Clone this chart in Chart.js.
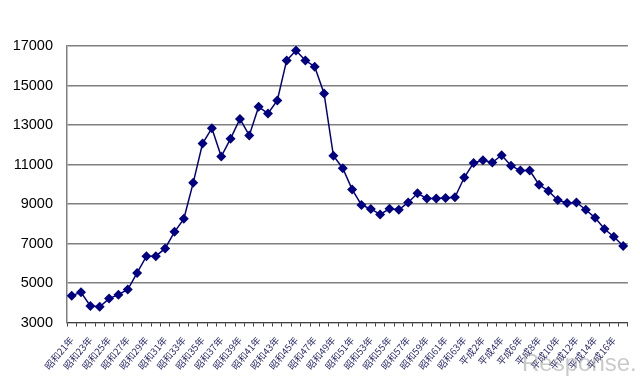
<!DOCTYPE html>
<html>
<head>
<meta charset="utf-8">
<script src="https://cdn.jsdelivr.net/npm/chart.js@4"></script>
<style>
html,body{margin:0;padding:0;background:#fff;}
#wrap{position:relative;width:640px;height:383px;}
#mark{position:absolute;left:522px;top:349px;font-family:"Liberation Sans",Arial,sans-serif;font-size:24px;color:rgba(150,150,150,0.5);}
</style>
</head>
<body>
<div id="wrap">
<canvas id="c" width="640" height="383"></canvas>
<div id="mark">Response.</div>
</div>
<script>
const categories = [
"昭和21年","昭和22年","昭和23年","昭和24年","昭和25年","昭和26年","昭和27年","昭和28年","昭和29年","昭和30年",
"昭和31年","昭和32年","昭和33年","昭和34年","昭和35年","昭和36年","昭和37年","昭和38年","昭和39年","昭和40年",
"昭和41年","昭和42年","昭和43年","昭和44年","昭和45年","昭和46年","昭和47年","昭和48年","昭和49年","昭和50年",
"昭和51年","昭和52年","昭和53年","昭和54年","昭和55年","昭和56年","昭和57年","昭和58年","昭和59年","昭和60年",
"昭和61年","昭和62年","昭和63年","平成元年","平成2年","平成3年","平成4年","平成5年","平成6年","平成7年",
"平成8年","平成9年","平成10年","平成11年","平成12年","平成13年","平成14年","平成15年","平成16年","平成17年"
];
const deaths = [
4360,4530,3840,3800,4210,4410,4670,5510,6360,6360,
6750,7590,8250,10070,12060,12840,11400,12310,13310,12470,
13920,13580,14240,16270,16770,16270,15950,14600,11440,10810,
9740,8950,8750,8470,8760,8710,9080,9540,9280,9280,
9300,9340,10340,11080,11210,11100,11470,10940,10690,10690,
9980,9660,9200,9050,9080,8710,8300,7730,7340,6870
];
const yTicks = [3000,5000,7000,9000,11000,13000,15000,17000];

new Chart(document.getElementById('c'), {
  type: 'line',
  data: {
    labels: categories,
    datasets: [{
      data: deaths,
      borderColor: '#000080',
      backgroundColor: '#000080',
      borderWidth: 1.5,
      pointStyle: 'rectRot',
      pointRadius: 5,
      pointBorderWidth: 0,
      tension: 0
    }]
  },
  options: {
    responsive: false,
    animation: false,
    events: [],
    layout: { padding: { left: 0, right: 11, top: 46, bottom: 0 } },
    plugins: { legend: { display: false }, tooltip: { enabled: false } },
    scales: {
      x: {
        offset: true,
        grid: { display: true, drawOnChartArea: false, drawTicks: true, tickLength: 4, color: '#404040', offset: true },
        border: { display: true, color: '#404040', width: 1 },
        ticks: {
          autoSkip: false,
          maxRotation: 50,
          minRotation: 50,
          padding: 8,
          color: '#2a2a6a',
          font: { family: '"Noto Sans CJK JP", sans-serif', size: 9.5 },
          callback: function(v, i) { return i % 2 === 0 ? categories[i] : ''; }
        },
        afterFit: function(s) { s.height = 60.5; }
      },
      y: {
        min: 3000,
        max: 17000,
        afterBuildTicks: function(s) { s.ticks = yTicks.map(v => ({ value: v })); },
        grid: { color: '#7f7f7f', lineWidth: 1.5, drawTicks: false },
        border: { display: true, color: '#7f7f7f', width: 1.5 },
        ticks: {
          padding: 14,
          color: '#000',
          font: { family: '"Liberation Sans", Arial, sans-serif', size: 14.5 },
          callback: function(v) { return String(v); }
        },
        afterFit: function(s) { s.width = 67; }
      }
    }
  }
});
</script>
</body>
</html>
